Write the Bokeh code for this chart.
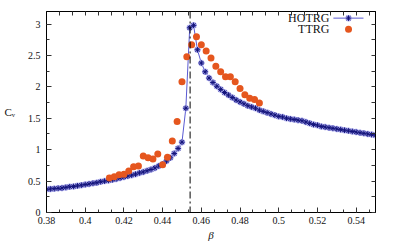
from bokeh.plotting import figure
from bokeh.models import Range1d, FixedTicker, PrintfTickFormatter, LinearAxis, Span, Label
from bokeh.embed import file_html
from bokeh.resources import INLINE

# ---------------- data ----------------
beta_hotrg = [0.380, 0.382, 0.384, 0.386, 0.388, 0.390, 0.392, 0.394, 0.396, 0.398,
              0.400, 0.402, 0.404, 0.406, 0.408, 0.410, 0.412, 0.414, 0.416, 0.418,
              0.420, 0.422, 0.424, 0.426, 0.428, 0.430, 0.432, 0.434, 0.436, 0.438,
              0.440, 0.442, 0.444, 0.446, 0.448, 0.450, 0.452, 0.454, 0.456, 0.458,
              0.460, 0.462, 0.464, 0.466, 0.468, 0.470, 0.472, 0.474, 0.476, 0.478,
              0.480, 0.482, 0.484, 0.486, 0.488, 0.490, 0.492, 0.494, 0.496, 0.498,
              0.500, 0.502, 0.504, 0.506, 0.508, 0.510, 0.512, 0.514, 0.516, 0.518,
              0.520, 0.522, 0.524, 0.526, 0.528, 0.530, 0.532, 0.534, 0.536, 0.538,
              0.540, 0.542, 0.544, 0.546, 0.548, 0.550]
cv_hotrg = [0.370, 0.375, 0.380, 0.385, 0.390, 0.400, 0.410, 0.415, 0.425, 0.435,
            0.445, 0.455, 0.465, 0.475, 0.490, 0.500, 0.510, 0.520, 0.535, 0.550,
            0.565, 0.580, 0.595, 0.610, 0.630, 0.645, 0.665, 0.685, 0.710, 0.740,
            0.770, 0.820, 0.870, 0.940, 1.020, 1.120, 1.660, 2.940, 2.980, 2.590,
            2.380, 2.240, 2.140, 2.070, 2.010, 1.960, 1.910, 1.870, 1.830, 1.790,
            1.760, 1.730, 1.700, 1.680, 1.660, 1.630, 1.610, 1.590, 1.570, 1.550,
            1.530, 1.520, 1.500, 1.490, 1.480, 1.470, 1.460, 1.440, 1.420, 1.400,
            1.390, 1.370, 1.360, 1.350, 1.340, 1.330, 1.320, 1.310, 1.300, 1.290,
            1.280, 1.270, 1.260, 1.250, 1.240, 1.230]

beta_ttrg = [0.4125, 0.4150, 0.4175, 0.4200, 0.4225, 0.4250, 0.4275, 0.4300,
             0.4325, 0.4350, 0.4375, 0.4400, 0.4425, 0.4450, 0.4475, 0.4500,
             0.4525, 0.4550, 0.4575, 0.4600, 0.4625, 0.4650, 0.4675, 0.4700,
             0.4725, 0.4750, 0.4775, 0.4800, 0.4825, 0.4850, 0.4875, 0.4900]
cv_ttrg = [0.55, 0.57, 0.60, 0.61, 0.66, 0.73, 0.74, 0.90,
           0.87, 0.85, 0.93, 0.76, 0.88, 1.14, 1.45, 2.08,
           2.48, 2.67, 2.80, 2.67, 2.57, 2.46, 2.33, 2.24,
           2.16, 2.16, 2.08, 1.975, 1.875, 1.82, 1.80, 1.745]

beta_c = 0.4542

x_ticks = [0.38, 0.40, 0.42, 0.44, 0.46, 0.48, 0.50, 0.52, 0.54]
y_ticks = [0.0, 0.5, 1.0, 1.5, 2.0, 2.5, 3.0]

series_labels = ["HOTRG", "TTRG"]
x_label = "β"
y_label = "Cᵥ"

# ---------------- styling ----------------
FONT = "Liberation Serif"
X0, X1 = 0.38, 0.55
Y0, Y1 = 0.0, 3.2
LINE_BLUE = "#5a5ad2"
STAR_DARK = "#12127a"
STAR_HALO = "#a8a8ec"
ORANGE = "#e5561e"

x_minor = [round(X0 + i * 0.02 / 3, 5) for i in range(0, 26)]
y_minor = [i * 0.25 for i in range(0, 13)]

xt = FixedTicker(ticks=x_ticks, minor_ticks=x_minor)
yt = FixedTicker(ticks=y_ticks, minor_ticks=y_minor)
# top / right: tick marks only, no labels
xt_top = FixedTicker(ticks=[], minor_ticks=x_minor)
yt_right = FixedTicker(ticks=[], minor_ticks=y_minor)

p = figure(width=391, height=243, output_backend="svg", toolbar_location=None,
           x_range=Range1d(X0, X1), y_range=Range1d(Y0, Y1),
           min_border_left=46, min_border_right=16, min_border_top=11,
           min_border_bottom=27)
p.grid.visible = False
p.outline_line_color = "black"
p.outline_line_width = 1
p.background_fill_color = "white"
p.border_fill_color = "white"

p.xaxis.ticker = xt
p.yaxis.ticker = yt
p.xaxis.formatter = PrintfTickFormatter(format="%g")
p.yaxis.formatter = PrintfTickFormatter(format="%g")

for ax in list(p.xaxis) + list(p.yaxis):
    ax.major_tick_in = 5
    ax.major_tick_out = 0
    ax.minor_tick_in = 3
    ax.minor_tick_out = 0
    ax.axis_line_color = "black"
    ax.major_tick_line_color = "#333333"
    ax.minor_tick_line_color = "#333333"
    ax.major_label_text_font = FONT
    ax.major_label_text_font_size = "10px"
    ax.major_label_text_color = "#111111"
    ax.axis_label_text_font = FONT
    ax.axis_label_text_color = "#111111"

p.xaxis.major_label_standoff = 4
p.yaxis.major_label_standoff = 6
p.xaxis.axis_label = x_label
p.xaxis.axis_label_text_font_style = "italic"
p.xaxis.axis_label_text_font_size = "11px"
p.xaxis.axis_label_standoff = 2
p.yaxis.axis_label = y_label
p.yaxis.axis_label_text_font_style = "normal"
p.yaxis.axis_label_text_font_size = "11px"
p.yaxis.axis_label_standoff = 10
try:
    p.yaxis[0].axis_label_orientation = "horizontal"
except Exception:
    pass

for loc, tk in (("above", xt_top), ("right", yt_right)):
    ax = LinearAxis(ticker=tk, major_label_standoff=0,
                    major_tick_in=0, major_tick_out=0, minor_tick_in=4, minor_tick_out=0,
                    axis_line_color="black", minor_tick_line_color="#333333")
    p.add_layout(ax, loc)

# critical point
p.add_layout(Span(location=beta_c, dimension="height", line_color="black",
                  line_width=1, line_dash="7 3 2 3"))

# HOTRG
p.line(beta_hotrg, cv_hotrg, line_color=LINE_BLUE, line_width=1)
p.scatter(beta_hotrg, cv_hotrg, marker="asterisk", size=6.5, line_color=STAR_HALO, line_width=2)
p.scatter(beta_hotrg, cv_hotrg, marker="asterisk", size=5.5, line_color=STAR_DARK, line_width=1)

# TTRG
p.scatter(beta_ttrg, cv_ttrg, marker="circle", size=7, fill_color=ORANGE, line_color=None)

# legend (label left of key, as in the reference)
def fx(f):
    return X0 + f * (X1 - X0)

def fy(f):
    return Y0 + f * (Y1 - Y0)

row1, row2 = fy(0.967), fy(0.912)
for txt, yy in zip(series_labels, (row1, row2)):
    p.add_layout(Label(x=fx(0.86), y=yy, text=txt, text_align="right", text_baseline="middle",
                       text_font=FONT, text_font_size="12px", text_color="#111111"))
p.line([fx(0.872), fx(0.9635)], [row1, row1], line_color=LINE_BLUE, line_width=1)
p.scatter([fx(0.918)], [row1], marker="asterisk", size=6.5, line_color=STAR_HALO, line_width=2)
p.scatter([fx(0.918)], [row1], marker="asterisk", size=5.5, line_color=STAR_DARK, line_width=1)
p.scatter([fx(0.918)], [row2], marker="circle", size=7, fill_color=ORANGE, line_color=None)

open("out.html", "w").write(file_html(p, INLINE))
